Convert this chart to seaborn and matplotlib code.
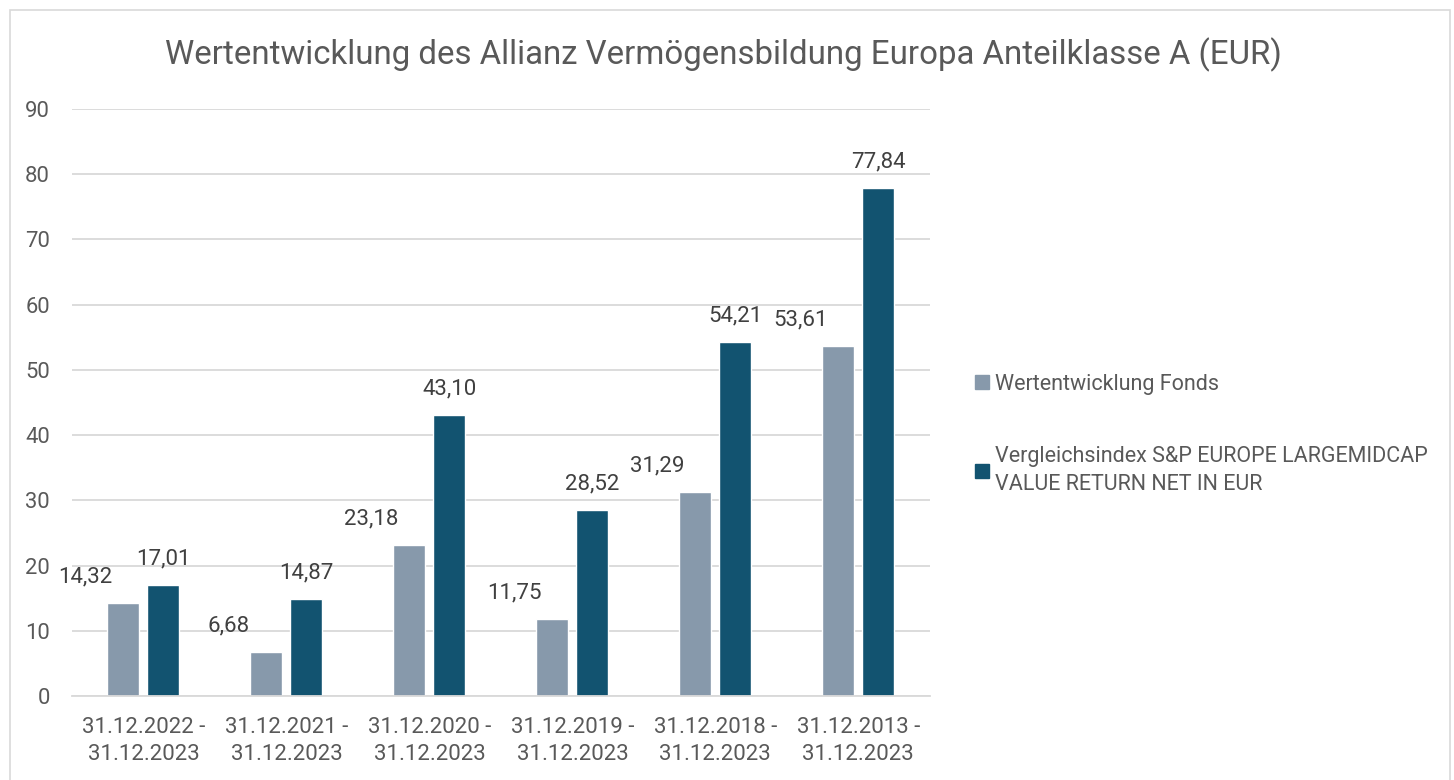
import numpy as np
import pandas as pd
import matplotlib
matplotlib.use("Agg")
import matplotlib.pyplot as plt
from matplotlib.patches import Rectangle, Patch
import seaborn as sns

# data
periods = [
    "31.12.2022 -\n31.12.2023",
    "31.12.2021 -\n31.12.2023",
    "31.12.2020 -\n31.12.2023",
    "31.12.2019 -\n31.12.2023",
    "31.12.2018 -\n31.12.2023",
    "31.12.2013 -\n31.12.2023",
]
fonds = [14.32, 6.68, 23.18, 11.75, 31.29, 53.61]
index = [17.01, 14.87, 43.10, 28.52, 54.21, 77.84]
series_names = [
    "Wertentwicklung Fonds",
    "Vergleichsindex S&P EUROPE LARGEMIDCAP\nVALUE RETURN NET IN EUR",
]
title = "Wertentwicklung des Allianz Vermögensbildung Europa Anteilklasse A (EUR)"

LIGHT = "#8799AB"
DARK = "#125370"
TEXT = "#595959"
GRID = "#D9D9D9"


def fmt(v):
    return f"{v:.2f}".replace(".", ",")


def build_frame():
    rows = []
    for p, a, b in zip(periods, fonds, index):
        rows.append({"period": p, "series": series_names[0], "value": a})
        rows.append({"period": p, "series": series_names[1], "value": b})
    return pd.DataFrame(rows)


def plot(df):
    sns.set_style("white")
    plt.rcParams["font.family"] = ["Roboto", "DejaVu Sans"]

    fig = plt.figure(figsize=(14.54, 7.8), dpi=100)
    ax = fig.add_axes([0.0495, 0.1077, 0.59, 0.7526])

    sns.barplot(
        data=df, x="period", y="value", hue="series",
        palette=[LIGHT, DARK], width=0.56, gap=0.2,
        errorbar=None, ax=ax, legend=False, saturation=1,
    )

    ax.set_ylim(0, 90)
    ax.set_xlim(-0.5, len(periods) - 0.5)
    ax.set_yticks(np.arange(0, 91, 10))
    ax.yaxis.grid(True, color=GRID, linewidth=1.3)
    ax.set_axisbelow(True)
    ax.set_xlabel("")
    ax.set_ylabel("")
    for s in ["top", "right", "left"]:
        ax.spines[s].set_visible(False)
    ax.spines["bottom"].set_color(GRID)
    ax.spines["bottom"].set_linewidth(1.3)

    ax.set_xticks(np.arange(-0.5, len(periods), 1), minor=True)
    ax.tick_params(axis="x", which="major", length=0, pad=15,
                   labelsize=16, labelcolor=TEXT)
    ax.tick_params(axis="x", which="minor", length=8, width=1.3, color=GRID)
    ax.tick_params(axis="y", length=0, pad=16, labelsize=15.8, labelcolor=TEXT)
    for t in ax.get_xticklabels():
        t.set_linespacing(1.4)

    # data labels: Excel put the fund labels up and to the left of the bars
    light_bars, dark_bars = ax.containers[0], ax.containers[1]
    for bars, vals, dx in [(light_bars, fonds, -38), (dark_bars, index, 0)]:
        for bar, v in zip(bars, vals):
            ax.annotate(fmt(v), (bar.get_x() + bar.get_width() / 2, bar.get_height()),
                        xytext=(dx, 26), textcoords="offset pixels",
                        ha="center", va="center", fontsize=16, color="#404040")

    fig.text(0.4975, 0.93, title, ha="center", va="center",
             fontsize=23.8, color=TEXT)

    handles = [Patch(color=LIGHT), Patch(color=DARK)]
    leg = fig.legend(handles, series_names, loc="center left",
                     bbox_to_anchor=(0.657, 0.443), frameon=False,
                     fontsize=15.5, labelcolor=TEXT, handlelength=0.65,
                     handleheight=0.65, handletextpad=0.3, labelspacing=2.4)
    for t in leg.get_texts():
        t.set_linespacing(1.45)

    fig.patches.append(Rectangle((10 / 1454, -0.01), 1440 / 1454, 1 - 10 / 780 + 0.01,
                                 transform=fig.transFigure, fill=False,
                                 edgecolor=GRID, linewidth=1.2))

    fig.savefig("out.png", dpi=100, facecolor="white")


if __name__ == "__main__":
    plot(build_frame())
